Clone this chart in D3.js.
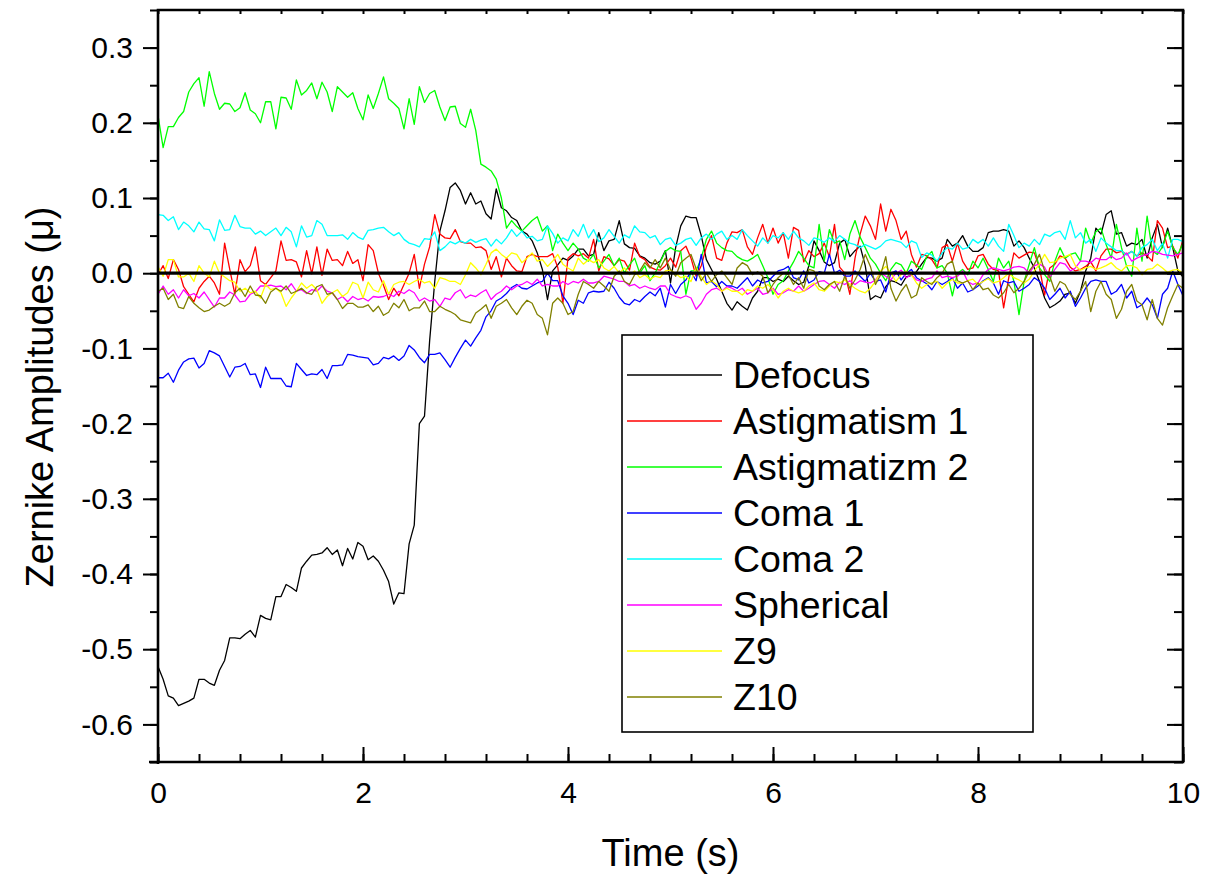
<!DOCTYPE html>
<html>
<head>
<meta charset="utf-8">
<script src="https://cdn.jsdelivr.net/npm/d3@7"></script>
<style>
  body { margin: 0; background: #fff; }
  svg { display: block; font-family: "Liberation Sans", Arial, sans-serif; }
</style>
</head>
<body>
<svg id="chart" width="1211" height="875"></svg>
<script>
// sampling interval of the recorded traces (s)
const timeStep = 0.05
const sampleCount = 201

const seriesNames = ["Defocus", "Astigmatism 1", "Astigmatizm 2", "Coma 1", "Coma 2", "Spherical", "Z9", "Z10"]
const seriesColors = ["#000000", "#ff0000", "#00ff00", "#0000ff", "#00ffff", "#ff00ff", "#ffff00", "#808000"]

const xTicks = [0, 2, 4, 6, 8, 10]
const yTicks = [-0.6, -0.5, -0.4, -0.3, -0.2, -0.1, 0.0, 0.1, 0.2, 0.3]

// amplitudes in microns, one value every 0.05 s from 0 to 10 s
const defocus = [
  -0.523,-0.54,-0.562,-0.565,-0.575,-0.572,-0.569,-0.565,-0.54,-0.54,-0.545,-0.548,-0.528,-0.515,-0.485,-0.485,-0.486,-0.48,-0.475,-0.484,
  -0.455,-0.459,-0.461,-0.43,-0.43,-0.414,-0.418,-0.423,-0.392,-0.383,-0.375,-0.374,-0.372,-0.365,-0.374,-0.368,-0.389,-0.366,-0.38,-0.358,
  -0.363,-0.381,-0.376,-0.383,-0.395,-0.41,-0.44,-0.425,-0.426,-0.36,-0.335,-0.2,-0.19,-0.09,-0.011,0.056,0.083,0.114,0.12,0.11,
  0.092,0.107,0.092,0.096,0.079,0.072,0.112,0.087,0.083,0.074,0.07,0.056,0.052,0.043,0.027,0.005,-0.035,0.003,0.011,0.02,
  0.017,0.023,0.032,0.032,0.023,0.025,0.054,0.03,0.043,0.045,0.07,0.039,0.034,0.033,0.023,0.02,0.014,0.012,0.016,0.03,
  -0.013,0.034,0.063,0.076,0.074,0.074,0.05,0.018,0.005,-0.008,-0.024,-0.04,-0.049,-0.038,-0.044,-0.049,-0.033,-0.024,-0.006,-0.006,
  -0.011,-0.008,-0.011,-0.004,-0.01,-0.015,-0.012,0.01,0.043,0.03,0.015,0.01,0.014,0.04,0.045,0.022,0.03,0.036,0.01,-0.035,
  -0.03,-0.033,-0.018,-0.01,-0.012,-0.016,-0.005,-0.003,0.002,0.012,0.021,0.02,0.016,0.02,0.045,0.036,0.04,0.05,0.036,0.029,
  0.029,0.034,0.054,0.056,0.056,0.058,0.056,0.036,0.043,0.034,0.02,0.007,-0.011,-0.033,-0.046,-0.042,-0.037,-0.028,-0.026,-0.04,
  -0.024,0.003,0.02,0.06,0.052,0.078,0.083,0.052,0.054,0.036,0.04,0.038,0.045,0.02,0.047,0.065,0.034,0.06,0.034,0.003,
  -0.005]

const astigmatism1 = [
  -0.002,0.01,-0.007,0.018,0.005,-0.018,-0.028,-0.038,-0.02,-0.011,-0.004,-0.013,-0.028,0.04,0.005,-0.028,0.018,0.002,0.01,0.035,
  -0.01,-0.015,-0.006,0.003,0.043,0.017,0.018,0.015,-0.005,0.03,-0.001,0.035,-0.003,0.032,0.017,0.018,0.01,0.029,0.013,0.018,
  -0.01,0.038,0.03,0.0,-0.016,-0.035,-0.02,-0.03,-0.015,0.0,0.025,-0.02,0.012,0.035,0.078,0.052,0.047,0.046,0.058,0.042,
  0.04,0.04,0.034,0.035,0.03,0.005,0.022,-0.005,0.02,0.01,0.003,0.002,0.022,0.025,0.022,0.022,0.022,0.026,0.008,-0.04,
  0.02,0.026,0.023,0.026,0.02,0.045,0.003,0.022,0.019,0.01,0.018,0.016,0.004,0.04,0.022,0.018,0.008,0.005,0.004,0.01,
  0.02,0.008,0.03,0.036,0.02,-0.004,0.01,0.035,0.05,0.02,0.017,0.04,0.055,0.054,0.058,0.035,0.025,0.047,0.065,0.04,
  0.06,0.04,0.054,0.02,0.061,0.057,0.015,0.03,0.022,0.026,0.04,0.022,0.065,0.008,0.0,-0.028,0.02,0.052,0.076,0.063,
  0.045,0.092,0.056,0.085,0.07,0.045,0.056,0.025,0.008,0.025,0.023,0.018,0.007,0.034,0.038,0.016,0.04,0.016,0.005,0.007,
  0.023,0.025,0.012,0.005,0.003,-0.046,-0.006,0.027,0.02,0.024,0.028,0.027,0.007,-0.029,0.007,0.012,0.023,0.02,0.008,0.003,
  0.005,0.009,0.015,0.003,0.023,0.032,0.032,0.027,0.029,0.025,0.029,0.023,0.027,0.023,0.016,0.07,0.06,0.034,0.036,0.02,
  0.045]

const astigmatism2 = [
  0.21,0.167,0.195,0.195,0.207,0.215,0.241,0.252,0.26,0.222,0.268,0.239,0.218,0.226,0.225,0.215,0.22,0.24,0.217,0.212,
  0.2,0.228,0.228,0.192,0.234,0.233,0.218,0.257,0.237,0.243,0.253,0.232,0.254,0.241,0.215,0.248,0.241,0.234,0.24,0.219,
  0.204,0.237,0.219,0.239,0.261,0.232,0.226,0.219,0.192,0.232,0.198,0.248,0.227,0.239,0.243,0.221,0.203,0.221,0.222,0.199,
  0.194,0.218,0.19,0.145,0.141,0.136,0.125,0.1,0.06,0.07,0.062,0.056,0.063,0.07,0.075,0.056,0.063,0.03,0.052,0.04,
  0.03,0.04,0.032,0.02,0.016,0.025,0.007,0.016,0.025,0.01,0.02,0.0,0.011,0.02,0.0,0.01,-0.01,0.0,0.015,0.029,
  0.034,0.03,0.029,-0.028,0.003,0.003,0.02,0.045,0.056,0.04,0.034,0.03,0.029,0.022,0.018,0.016,0.02,0.025,0.01,-0.006,
  -0.028,-0.015,-0.01,0.003,0.015,0.029,0.02,0.01,0.007,0.065,0.016,0.058,0.04,0.043,0.018,0.052,0.07,0.048,0.034,0.02,
  0.012,0.0,-0.01,0.005,0.014,0.011,0.0,0.016,0.011,0.005,0.022,0.029,0.007,0.01,0.0,-0.03,0.0,0.005,-0.002,0.016,
  0.007,0.02,0.005,-0.011,0.02,0.007,0.016,-0.011,-0.055,-0.011,0.012,0.034,0.007,-0.002,-0.011,0.016,0.034,0.02,0.025,0.027,
  0.016,0.06,0.04,0.055,0.06,0.038,0.02,0.065,0.034,0.009,-0.004,0.06,0.016,0.076,0.03,0.025,0.035,0.056,0.034,0.025,
  0.04]

const coma1 = [
  -0.139,-0.139,-0.133,-0.145,-0.129,-0.118,-0.114,-0.113,-0.126,-0.12,-0.103,-0.106,-0.11,-0.124,-0.138,-0.125,-0.124,-0.12,-0.135,-0.134,
  -0.152,-0.125,-0.14,-0.14,-0.14,-0.15,-0.151,-0.12,-0.128,-0.136,-0.134,-0.135,-0.128,-0.14,-0.123,-0.123,-0.122,-0.108,-0.109,-0.111,
  -0.112,-0.113,-0.122,-0.12,-0.112,-0.114,-0.11,-0.116,-0.11,-0.096,-0.102,-0.112,-0.119,-0.108,-0.108,-0.106,-0.115,-0.125,-0.112,-0.1,
  -0.089,-0.097,-0.086,-0.076,-0.058,-0.05,-0.037,-0.033,-0.027,-0.019,-0.015,-0.02,-0.021,-0.017,-0.013,-0.011,0.0,-0.01,-0.01,-0.03,
  -0.04,-0.055,-0.036,-0.04,-0.026,-0.024,-0.025,-0.024,-0.012,-0.02,-0.032,-0.04,-0.042,-0.035,-0.038,-0.031,-0.025,-0.03,-0.02,-0.045,
  -0.015,-0.027,-0.015,-0.009,0.002,-0.01,0.025,-0.013,-0.011,-0.018,-0.011,-0.017,-0.017,-0.02,-0.013,-0.006,-0.017,-0.009,-0.013,-0.011,
  -0.004,0.003,0.005,0.009,-0.006,-0.009,0.003,-0.013,-0.009,0.002,0.0,0.025,0.0,0.004,-0.004,-0.004,0.003,-0.004,-0.011,0.0,
  -0.011,-0.009,-0.025,0.0,0.003,-0.009,0.0,0.005,-0.006,-0.01,-0.014,-0.022,-0.011,-0.015,-0.011,-0.006,-0.02,-0.013,-0.025,-0.022,
  -0.017,-0.01,-0.006,-0.013,-0.028,-0.01,-0.013,-0.011,-0.024,-0.02,-0.015,-0.006,-0.011,-0.02,-0.035,-0.028,-0.02,-0.033,-0.024,-0.044,
  -0.033,-0.02,-0.011,-0.009,-0.011,-0.011,-0.028,-0.024,-0.015,-0.033,-0.024,-0.046,-0.042,-0.033,-0.042,-0.06,-0.028,-0.02,0.003,-0.015,
  -0.03]

const coma2 = [
  0.078,0.077,0.07,0.075,0.058,0.068,0.063,0.055,0.068,0.059,0.058,0.043,0.071,0.057,0.058,0.077,0.062,0.06,0.06,0.052,
  0.056,0.05,0.055,0.06,0.05,0.061,0.055,0.035,0.063,0.048,0.05,0.07,0.065,0.05,0.05,0.05,0.051,0.045,0.054,0.048,
  0.045,0.057,0.058,0.06,0.061,0.055,0.05,0.054,0.045,0.04,0.038,0.035,0.046,0.045,0.055,0.03,0.035,0.042,0.039,0.043,
  0.04,0.045,0.041,0.044,0.046,0.036,0.045,0.039,0.047,0.058,0.049,0.056,0.047,0.049,0.043,0.045,0.063,0.053,0.04,0.047,
  0.043,0.058,0.049,0.065,0.047,0.058,0.042,0.047,0.058,0.049,0.04,0.051,0.047,0.063,0.055,0.054,0.047,0.05,0.038,0.045,
  0.047,0.037,0.04,0.045,0.047,0.037,0.047,0.052,0.045,0.052,0.056,0.045,0.05,0.045,0.058,0.05,0.043,0.036,0.047,0.04,
  0.05,0.047,0.054,0.045,0.056,0.047,0.043,0.037,0.047,0.045,0.041,0.047,0.042,0.05,0.045,0.04,0.038,0.034,0.038,0.035,
  0.032,0.036,0.043,0.045,0.043,0.041,0.034,0.043,0.04,0.021,0.027,0.024,0.016,0.027,0.034,0.032,0.04,0.032,0.034,0.045,
  0.04,0.045,0.036,0.047,0.036,0.029,0.065,0.05,0.034,0.04,0.036,0.045,0.038,0.052,0.049,0.054,0.056,0.045,0.07,0.047,
  0.054,0.04,0.045,0.029,0.047,0.04,0.035,0.03,0.03,0.024,0.029,0.022,0.034,0.038,0.045,0.03,0.04,0.02,0.045,0.045,
  0.042]

const spherical = [
  -0.028,-0.017,-0.028,-0.022,-0.033,-0.022,-0.03,-0.027,-0.033,-0.025,-0.035,-0.045,-0.033,-0.033,-0.025,-0.029,-0.038,-0.037,-0.028,-0.025,
  -0.017,-0.017,-0.016,-0.018,-0.017,-0.022,-0.014,-0.024,-0.022,-0.027,-0.022,-0.024,-0.017,-0.024,-0.026,-0.035,-0.031,-0.038,-0.031,-0.035,
  -0.033,-0.037,-0.031,-0.032,-0.031,-0.028,-0.031,-0.024,-0.027,-0.022,-0.026,-0.037,-0.033,-0.037,-0.035,-0.044,-0.033,-0.035,-0.026,-0.022,
  -0.033,-0.029,-0.031,-0.026,-0.022,-0.035,-0.028,-0.024,-0.017,-0.022,-0.017,-0.015,-0.011,-0.015,-0.008,-0.017,-0.015,-0.017,-0.017,-0.011,
  -0.015,-0.011,-0.013,-0.008,-0.013,-0.013,-0.011,-0.004,-0.006,-0.008,-0.011,-0.011,-0.017,-0.015,-0.02,-0.017,-0.02,-0.022,-0.017,-0.017,
  -0.028,-0.031,-0.033,-0.03,-0.033,-0.048,-0.04,-0.028,-0.022,-0.02,-0.024,-0.018,-0.02,-0.024,-0.02,-0.028,-0.024,-0.02,-0.028,-0.026,
  -0.02,-0.028,-0.026,-0.022,-0.024,-0.017,-0.024,-0.02,-0.015,-0.011,-0.01,-0.015,-0.02,-0.012,-0.015,-0.01,-0.015,-0.01,-0.012,-0.013,
  -0.009,0.0,-0.004,-0.009,0.0,0.004,-0.006,-0.002,-0.009,-0.011,-0.008,-0.006,0.003,-0.006,-0.004,-0.006,-0.004,0.003,-0.011,-0.015,
  -0.013,-0.002,0.005,0.007,0.005,0.003,0.005,0.008,0.009,0.007,0.0,0.01,0.012,0.008,-0.006,0.005,0.014,0.012,0.003,0.007,
  0.016,0.016,0.014,0.02,0.018,0.018,0.023,0.018,0.02,0.027,0.016,0.02,0.023,0.025,0.029,0.028,0.025,0.024,0.023,0.025,
  0.027]

const z9 = [
  0.009,-0.004,0.018,0.018,-0.005,-0.005,0.0,-0.011,0.01,0.0,-0.005,0.016,0.0,-0.005,-0.01,-0.012,-0.024,-0.02,-0.026,-0.024,
  -0.033,-0.015,-0.022,-0.02,-0.026,-0.044,-0.033,-0.024,-0.013,-0.02,-0.015,-0.022,-0.04,-0.031,-0.026,-0.022,-0.031,-0.026,-0.012,-0.015,
  -0.033,-0.012,-0.022,-0.025,-0.01,-0.028,-0.015,-0.012,-0.011,-0.015,-0.011,-0.008,-0.013,-0.011,-0.02,-0.006,-0.008,-0.011,-0.011,-0.015,
  -0.002,0.014,0.007,-0.002,0.012,0.027,0.032,0.025,0.02,0.027,0.025,0.014,0.02,0.027,0.016,0.018,0.009,0.016,0.025,0.012,
  0.007,0.003,0.02,0.012,0.018,0.014,0.018,0.007,0.003,0.009,0.0,0.007,-0.002,0.003,-0.006,-0.002,-0.008,-0.004,-0.006,0.003,
  0.004,0.0,-0.006,-0.004,-0.011,0.008,-0.005,-0.015,-0.01,-0.015,-0.024,-0.02,-0.024,-0.024,-0.029,-0.022,-0.024,-0.017,-0.02,-0.015,
  -0.022,-0.033,-0.024,-0.02,-0.024,-0.026,-0.024,-0.017,-0.013,-0.022,-0.024,-0.017,-0.011,-0.013,-0.009,-0.015,-0.02,-0.024,-0.026,-0.02,
  -0.011,0.003,0.009,0.0,-0.011,-0.002,0.003,-0.002,-0.013,-0.02,-0.015,-0.013,-0.011,-0.02,-0.013,-0.008,-0.013,-0.013,-0.01,-0.008,
  -0.015,-0.011,-0.007,-0.013,-0.011,-0.006,0.0,-0.006,-0.009,-0.013,-0.008,0.003,0.012,0.025,0.014,0.015,0.02,0.022,0.025,0.01,
  0.004,0.007,0.009,0.005,0.007,0.01,0.014,0.007,0.003,0.01,0.01,0.007,-0.002,0.005,0.006,0.012,0.007,0.001,0.004,0.005,
  0.0]

const z10 = [
  -0.024,-0.02,-0.035,-0.028,-0.045,-0.047,-0.031,-0.04,-0.046,-0.051,-0.049,-0.044,-0.04,-0.044,-0.04,-0.026,-0.02,-0.031,-0.017,-0.029,
  -0.03,-0.04,-0.025,-0.02,-0.024,-0.017,-0.027,-0.024,-0.02,-0.026,-0.028,-0.018,-0.015,-0.028,-0.026,-0.035,-0.047,-0.04,-0.04,-0.045,
  -0.045,-0.042,-0.051,-0.044,-0.056,-0.052,-0.04,-0.046,-0.035,-0.05,-0.046,-0.046,-0.037,-0.051,-0.051,-0.044,-0.048,-0.051,-0.055,-0.062,
  -0.064,-0.066,-0.053,-0.048,-0.042,-0.06,-0.044,-0.04,-0.035,-0.046,-0.055,-0.044,-0.036,-0.04,-0.055,-0.06,-0.082,-0.04,-0.033,-0.04,
  -0.055,-0.051,-0.028,-0.011,-0.015,-0.02,-0.011,-0.017,-0.024,-0.004,0.003,-0.011,-0.015,-0.002,0.003,0.014,0.007,0.018,0.007,0.02,
  0.005,-0.004,0.014,0.02,0.025,0.006,-0.01,0.0,-0.011,-0.002,0.003,-0.006,-0.015,0.007,0.014,0.01,-0.002,0.002,-0.004,-0.026,
  -0.015,-0.006,0.0,-0.002,-0.015,-0.006,-0.02,0.005,0.003,-0.017,-0.022,-0.015,-0.011,-0.024,-0.004,-0.02,-0.009,0.005,0.025,0.009,
  -0.015,-0.002,0.022,-0.02,-0.037,-0.024,-0.015,-0.033,-0.029,-0.006,-0.011,-0.015,-0.006,0.0,0.012,0.016,-0.01,-0.013,-0.01,-0.022,
  -0.013,-0.022,-0.02,-0.029,-0.033,-0.026,-0.015,-0.026,-0.02,-0.011,0.003,0.012,0.025,0.003,-0.004,-0.024,-0.011,-0.015,-0.028,-0.035,
  -0.024,-0.011,-0.051,-0.024,-0.011,-0.028,-0.035,-0.06,-0.048,-0.024,-0.015,-0.037,-0.042,-0.062,-0.035,-0.06,-0.069,-0.046,-0.03,-0.015,
  -0.02]

const seriesValues = [defocus, astigmatism1, astigmatism2, coma1, coma2, spherical, z9, z10]

const svg = d3.select("#chart")

const plot = { left: 158, right: 1183, top: 10, bottom: 762 }

const x = d3.scaleLinear().domain([0, 10]).range([plot.left, plot.right])
const y = d3.scaleLinear().domain([-0.65, 0.35]).range([plot.bottom, plot.top])

const times = d3.range(sampleCount).map(i => i * timeStep)
const minorX = d3.range(0, 10.001, 0.4).map(v => +v.toFixed(2))
const minorY = d3.range(-0.65, 0.351, 0.05).map(v => +v.toFixed(2))

const tickFont = "30px"

// ----- data lines
const line = d3.line()
    .x((d, i) => x(times[i]))
    .y(d => y(d))

const traces = svg.append("g")
seriesValues.forEach((vals, k) => {
    traces.append("path")
        .datum(vals)
        .attr("d", line)
        .attr("fill", "none")
        .attr("stroke", seriesColors[k])
        .attr("stroke-width", 1.3)
        .attr("stroke-linejoin", "round")
})

// zero reference line
svg.append("line")
    .attr("x1", plot.left).attr("x2", plot.right)
    .attr("y1", y(0)).attr("y2", y(0))
    .attr("stroke", "#000").attr("stroke-width", 3.2)

// ----- axes (ticks only, frame drawn after)
const styleAxis = (g) => {
    g.select(".domain").remove()
    g.selectAll("line").attr("stroke", "#000").attr("stroke-width", 2)
    g.selectAll("text").attr("fill", "#000").attr("font-size", tickFont)
        .attr("font-family", '"Liberation Sans", Arial, sans-serif')
}

// plain hyphen minus, as in the original labels
const yFormat = d => d.toFixed(1)

// left: outward ticks with labels
svg.append("g").attr("transform", `translate(${plot.left},0)`)
    .call(d3.axisLeft(y).tickValues(minorY).tickSize(8).tickFormat(""))
    .call(styleAxis)
svg.append("g").attr("transform", `translate(${plot.left},0)`)
    .call(d3.axisLeft(y).tickValues(yTicks).tickSize(15).tickPadding(10).tickFormat(yFormat))
    .call(styleAxis)

// right: inward ticks
svg.append("g").attr("transform", `translate(${plot.right},0)`)
    .call(d3.axisLeft(y).tickValues(minorY).tickSize(9).tickFormat(""))
    .call(styleAxis)
svg.append("g").attr("transform", `translate(${plot.right},0)`)
    .call(d3.axisLeft(y).tickValues(yTicks).tickSize(16).tickFormat(""))
    .call(styleAxis)

// bottom: inward ticks, labels below
svg.append("g").attr("transform", `translate(0,${plot.bottom})`)
    .call(d3.axisBottom(x).tickValues(minorX).tickSize(-8).tickFormat(""))
    .call(styleAxis)
svg.append("g").attr("transform", `translate(0,${plot.bottom})`)
    .call(d3.axisBottom(x).tickValues(xTicks).tickSize(-15).tickPadding(20).tickFormat(d3.format("d")))
    .call(styleAxis)

// top: small inward ticks
svg.append("g").attr("transform", `translate(0,${plot.top})`)
    .call(d3.axisTop(x).tickValues(minorX).tickSize(-4).tickFormat(""))
    .call(styleAxis)

// frame
svg.append("path")
    .attr("d", `M${plot.left - 9},${plot.bottom}H${plot.right}V${plot.top}H${plot.left}V${plot.bottom + 2}`)
    .attr("fill", "none")
    .attr("stroke", "#000")
    .attr("stroke-width", 2.6)

// ----- axis titles
svg.append("text")
    .attr("x", (plot.left + plot.right) / 2)
    .attr("y", 866)
    .attr("text-anchor", "middle")
    .attr("font-size", "38px")
    .text("Time (s)")

svg.append("text")
    .attr("transform", "translate(53,397) rotate(-90)")
    .attr("text-anchor", "middle")
    .attr("font-size", "38px")
    .text("Zernike Amplitudes (\u03bc)")

// ----- legend
const legend = svg.append("g")
legend.append("rect")
    .attr("x", 622).attr("y", 335)
    .attr("width", 411).attr("height", 397)
    .attr("fill", "#fff")
    .attr("stroke", "#000")
    .attr("stroke-width", 1.6)

const rows = legend.selectAll("g.row")
    .data(seriesNames)
    .enter()
    .append("g")
    .attr("class", "row")
    .attr("transform", (d, i) => `translate(0,${375 + i * 46})`)

rows.append("line")
    .attr("x1", 627).attr("x2", 722)
    .attr("stroke", (d, i) => seriesColors[i])
    .attr("stroke-width", 1.3)

rows.append("text")
    .attr("x", 733)
    .attr("dy", "0.35em")
    .attr("font-size", "37.5px")
    .text(d => d)
</script>
</body>
</html>
